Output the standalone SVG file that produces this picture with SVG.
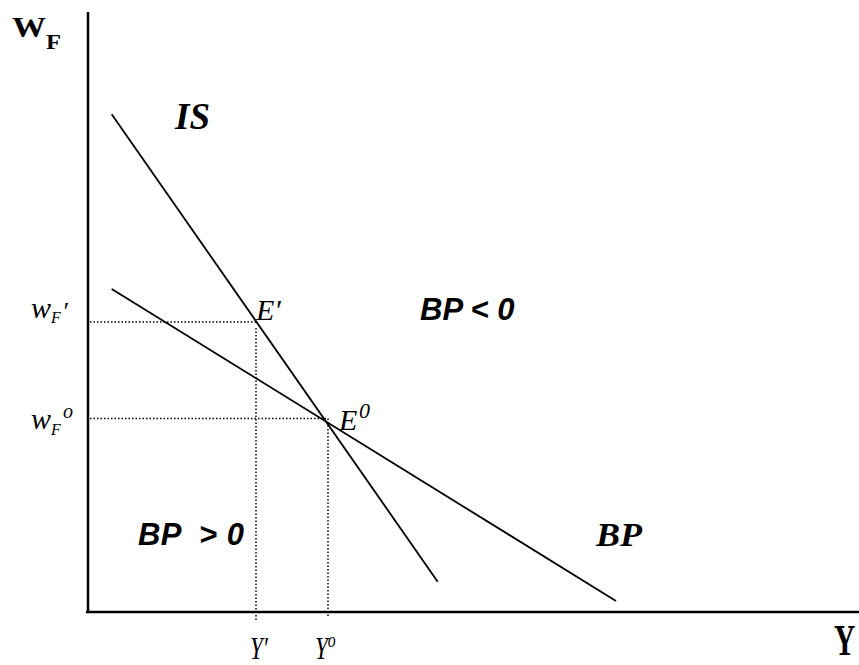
<svg xmlns="http://www.w3.org/2000/svg" width="859" height="665" viewBox="0 0 859 665">
<style>
.ax{stroke:#000;stroke-width:2.5;fill:none}
.cv{stroke:#000;stroke-width:1.8;fill:none}
.dt{stroke:#000;stroke-width:1.5;stroke-dasharray:1.5 2;fill:none}
.tr{font-family:"Liberation Serif","Times New Roman",serif;fill:#000}
.ti{font-family:"Liberation Serif","Times New Roman",serif;font-style:italic;fill:#000}
.tbi{font-family:"Liberation Serif","Times New Roman",serif;font-style:italic;font-weight:bold;fill:#000}
.ab{font-family:"Liberation Sans",Arial,sans-serif;font-style:italic;font-weight:bold;fill:#000;white-space:pre}
</style>
<rect width="859" height="665" fill="#fff"/>
<g id="axes">
<line class="ax" x1="88" y1="12" x2="88" y2="612"/>
<line class="ax" x1="86" y1="612" x2="859" y2="612"/>
</g>
<g id="connectors">
<line id="IS-curve" class="cv" x1="111.7" y1="114.3" x2="437.7" y2="581.7"/>
<line id="BP-curve" class="cv" x1="111.7" y1="289" x2="616" y2="601"/>
<line class="dt" x1="90" y1="322" x2="256" y2="322"/>
<line class="dt" x1="256" y1="328" x2="256" y2="620"/>
<line class="dt" x1="90" y1="418.5" x2="328" y2="418.5"/>
<line class="dt" x1="328" y1="418.5" x2="328" y2="617"/>
</g>
<g id="label-WF">
<text class="tr" font-weight="bold" font-size="29" x="12" y="37" textLength="34" lengthAdjust="spacingAndGlyphs">W</text>
<text class="tr" font-weight="bold" font-size="21" x="46" y="49" textLength="15" lengthAdjust="spacingAndGlyphs">F</text>
</g>
<g id="label-Y">
<text class="tr" font-weight="bold" font-size="42" transform="translate(834,655) scale(0.7,1.08)">Y</text>
</g>
<g id="label-IS">
<text class="tbi" font-size="37" x="175" y="129">IS</text>
</g>
<g id="label-BP">
<text class="tbi" font-size="34" x="596" y="546" textLength="46" lengthAdjust="spacingAndGlyphs">BP</text>
</g>
<g id="label-BPneg">
<text class="ab" font-size="31" x="420" y="320">BP &lt; 0</text>
</g>
<g id="label-BPpos">
<text class="ab" font-size="31" x="138" y="545" textLength="106" lengthAdjust="spacing">BP  &gt; 0</text>
</g>
<g id="label-wF1">
<text class="ti" font-size="30" x="31" y="318">w</text>
<text class="ti" font-size="16" x="51" y="323">F</text>
<text class="ti" font-size="26" x="62" y="320">′</text>
</g>
<g id="label-wF0">
<text class="ti" font-size="30" x="31" y="429">w</text>
<text class="ti" font-size="16" x="51" y="435">F</text>
<text class="ti" font-size="20" x="63" y="418">o</text>
</g>
<g id="label-E1">
<text class="ti" font-size="30" x="256" y="320">E′</text>
</g>
<g id="label-E0">
<text class="ti" font-size="30" x="339" y="430">E</text>
<text class="ti" font-size="22" x="359" y="418">0</text>
</g>
<g id="label-Y1">
<text class="ti" font-size="32" transform="translate(250,659) scale(0.72,1)">Y′</text>
</g>
<g id="label-Y0">
<text class="ti" font-size="32" transform="translate(315,659) scale(0.72,1)">Y<tspan font-size="22" dy="-12">o</tspan></text>
</g>
</svg>
